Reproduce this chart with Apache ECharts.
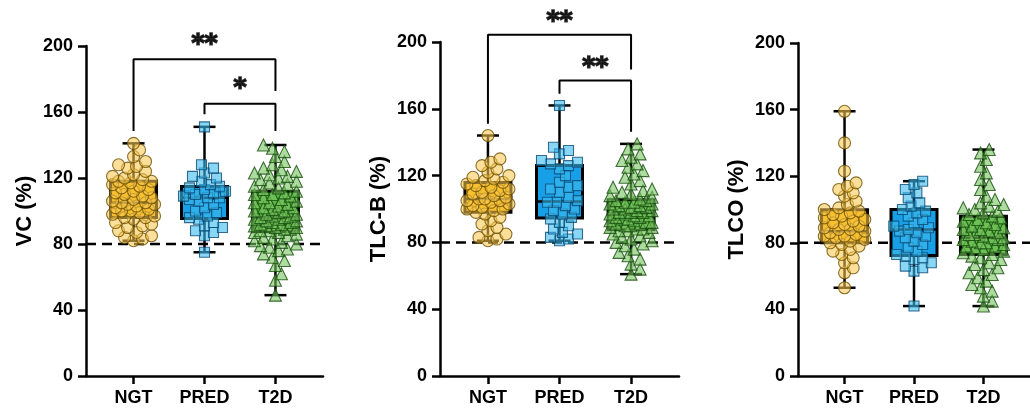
<!DOCTYPE html>
<html>
<head>
<meta charset="utf-8">
<script src="https://cdn.jsdelivr.net/npm/echarts@6/dist/echarts.min.js"></script>
<style>
  html, body { margin: 0; padding: 0; background: #fff; }
  #chart { width: 1030px; height: 408px; }
</style>
</head>
<body>
<div id="chart"></div>
<script>
// groups on the x axis
const groups = ["NGT", "PRED", "T2D"];
const panelNames = ["VC (%)", "TLC-B (%)", "TLCO (%)"];
const yTicks = [0, 40, 80, 120, 160, 200];
const refLine = 80;

// box stats per panel, per group: [min, q1, median, q3, max]
const vcBox = [[82, 96, 105, 118, 141], [75, 95.4, 108, 114.8, 151], [49, 87.5, 96, 112, 140]];
const tlcbBox = [[81, 98, 106, 115.8, 144], [81, 94.6, 104.5, 126, 162], [61, 87.6, 97.5, 105.5, 139]];
const tlcoBox = [[53, 80, 87, 99.8, 159], [42, 72.3, 88, 100, 117], [42, 73, 83, 96, 136]];

// individual points
const vcNGT = [82, 83, 84, 85, 87, 88, 90, 91, 92, 93, 95, 96, 96, 97, 98, 99, 100, 100, 101, 102, 103, 104, 104, 105, 105, 106, 107, 108, 109, 110, 111, 112, 113, 114, 115, 116, 117, 118, 118, 119, 120, 121, 122, 124, 126, 127, 128, 130, 133, 137, 141];
const vcPRED = [75, 85, 87, 88, 90, 91, 93, 95, 96, 97, 99, 100, 102, 104, 106, 107, 108, 108, 109, 110, 111, 112, 113, 114, 115, 116, 118, 120, 121, 123, 126, 128, 151];
const vcT2D = [49, 58, 62, 67, 70, 72, 74, 76, 77, 78, 79, 80, 81, 82, 83, 84, 85, 86, 87, 87, 88, 88, 89, 89, 90, 90, 91, 91, 92, 92, 93, 93, 94, 94, 95, 95, 96, 96, 97, 97, 98, 98, 99, 100, 100, 101, 102, 102, 103, 104, 105, 105, 106, 107, 108, 109, 110, 110, 111, 112, 113, 114, 115, 116, 117, 118, 119, 120, 121, 122, 123, 124, 125, 126, 128, 130, 133, 136, 138, 140];

const tlcbNGT = [81, 82, 83, 85, 87, 89, 91, 93, 95, 97, 98, 99, 100, 100, 101, 102, 103, 104, 105, 105, 106, 106, 107, 108, 109, 110, 111, 112, 113, 114, 115, 116, 117, 118, 119, 120, 122, 124, 126, 128, 130, 144];
const tlcbPRED = [81, 82, 83, 85, 86, 88, 90, 92, 94, 95, 97, 99, 100, 102, 104, 104, 105, 107, 110, 112, 113, 114, 116, 120, 124, 126, 127, 128, 129, 133, 135, 137, 162];
const tlcbT2D = [61, 64, 67, 70, 72, 74, 76, 78, 79, 80, 81, 82, 83, 84, 85, 86, 87, 87, 88, 88, 89, 89, 90, 90, 91, 91, 92, 92, 93, 93, 94, 94, 95, 95, 96, 96, 97, 97, 98, 98, 98, 99, 99, 100, 100, 101, 101, 102, 102, 103, 103, 104, 104, 105, 105, 106, 107, 108, 109, 110, 111, 112, 113, 115, 117, 119, 121, 123, 125, 127, 129, 131, 133, 136, 139];

const tlcoNGT = [53, 62, 65, 68, 71, 73, 75, 76, 78, 79, 80, 81, 82, 83, 84, 84, 85, 86, 87, 88, 88, 89, 90, 91, 92, 93, 94, 95, 96, 97, 98, 99, 100, 101, 103, 105, 108, 110, 112, 114, 116, 123, 140, 159];
const tlcoPRED = [42, 63, 65, 66, 68, 70, 71, 72, 73, 75, 77, 79, 81, 83, 84, 86, 87, 88, 89, 90, 92, 94, 96, 98, 99, 100, 102, 104, 107, 110, 112, 115, 117];
const tlcoT2D = [42, 45, 48, 51, 53, 55, 57, 59, 61, 62, 64, 65, 67, 68, 70, 71, 72, 73, 74, 75, 76, 77, 78, 78, 79, 80, 80, 81, 82, 82, 83, 83, 84, 85, 85, 86, 87, 88, 88, 89, 90, 91, 92, 93, 94, 95, 96, 97, 98, 99, 100, 101, 102, 103, 104, 106, 108, 112, 115, 118, 122, 126, 130, 134, 136];

// significance brackets: [x, y] corners, and star labels [x, y, text]
const vcBrackets = [[[0, 148.5], [0, 192], [2, 192], [2, 172.7]], [[1, 158.6], [1, 165], [2, 165], [2, 148.5]]];
const vcStars = [[1, 201, "**"], [1.5, 174, "*"]];
const tlcbBrackets = [[[0, 151], [0, 204.4], [2, 204.4], [2, 183.5]], [[1, 169], [1, 177], [2, 177], [2, 146.3]]];
const tlcbStars = [[1, 212, "**"], [1.5, 185, "**"]];

const boxColors = ["#F6B500", "#17A0E8", "#5DB845"];
const dotColors = ["rgba(248,200,80,0.72)", "rgba(60,186,238,0.75)", "rgba(120,196,96,0.75)"];
const dotBorders = ["#6e5000", "#0a4a74", "#174f0e"];
const dotSymbols = ["circle", "rect", "triangle"];
const dotSizes = [12, 10, 12];

const font = "'Liberation Sans', Arial, sans-serif";

const panels = [
  { name: panelNames[0], box: vcBox, pts: [vcNGT, vcPRED, vcT2D], brackets: vcBrackets, stars: vcStars,
    grid: { left: 86, top: 46, width: 237, height: 330 } },
  { name: panelNames[1], box: tlcbBox, pts: [tlcbNGT, tlcbPRED, tlcbT2D], brackets: tlcbBrackets, stars: tlcbStars,
    grid: { left: 440, top: 42, width: 239, height: 334 } },
  { name: panelNames[2], box: tlcoBox, pts: [tlcoNGT, tlcoPRED, tlcoT2D], brackets: [], stars: [],
    grid: { left: 798, top: 43, width: 241, height: 333 } },
];

const xMin = -0.67, xMax = 2.67;

// spread points sideways so they don't pile up (beeswarm-ish)
function swarm(vals, gi, pxX, pxY) {
  const sorted = vals.slice().sort((a, b) => a - b);
  const placed = [];
  const out = [];
  const d = 8.5, maxOff = 21;
  sorted.forEach((v) => {
    const y = v * pxY;
    let best = 0, bestDist = -1;
    for (let k = 0; k < 40; k++) {
      const off = (k % 2 ? 1 : -1) * Math.ceil(k / 2) * 3;
      if (Math.abs(off) > maxOff) break;
      let minD = Infinity;
      placed.forEach((p) => {
        const dd = Math.hypot(p[0] - off, p[1] - y);
        if (dd < minD) minD = dd;
      });
      if (minD >= d) { best = off; bestDist = minD; break; }
      if (minD > bestDist) { bestDist = minD; best = off; }
    }
    placed.push([best, y]);
    out.push([gi + best / pxX, v]);
  });
  return out;
}

const grids = [], xAxes = [], yAxes = [], series = [];

panels.forEach((p, i) => {
  grids.push(p.grid);
  xAxes.push({
    type: "value", gridIndex: i, min: xMin, max: xMax,
    axisLine: { onZero: false, lineStyle: { color: "#000", width: 2.5 } },
    axisTick: { show: true, customValues: [0, 1, 2], length: 8, lineStyle: { color: "#000", width: 2.5 } },
    axisLabel: { customValues: [0, 1, 2], formatter: (v) => groups[Math.round(v)], color: "#000",
      fontFamily: font, fontWeight: "bold", fontSize: 18, margin: 13 },
    splitLine: { show: false },
  });
  yAxes.push({
    type: "value", gridIndex: i, min: 0, max: 200, interval: 40,
    name: p.name, nameLocation: "middle", nameGap: 50,
    nameTextStyle: { color: "#000", fontFamily: font, fontWeight: "bold", fontSize: 22 },
    axisLine: { show: true, onZero: false, lineStyle: { color: "#000", width: 2.5 } },
    axisTick: { show: true, length: 8, lineStyle: { color: "#000", width: 2.5 } },
    axisLabel: { color: "#000", fontFamily: font, fontWeight: "bold", fontSize: 18, margin: 13 },
    splitLine: { show: false },
  });

  const pxX = p.grid.width / (xMax - xMin);
  const pxY = p.grid.height / 200;

  // dashed reference line at 80
  series.push({
    type: "line", xAxisIndex: i, yAxisIndex: i, silent: true, symbol: "none", z: 1,
    data: [[xMin, refLine], [xMax, refLine]],
    lineStyle: { color: "#000", width: 2.5, type: [10, 6] },
  });

  // boxes + whiskers
  series.push({
    type: "custom", xAxisIndex: i, yAxisIndex: i, z: 2,
    data: p.box.map((b, gi) => [gi].concat(b)),
    renderItem: (params, api) => {
      const gi = api.value(0);
      const c = (v) => api.coord([gi, v]);
      const pMin = c(api.value(1)), pQ1 = c(api.value(2)), pMed = c(api.value(3));
      const pQ3 = c(api.value(4)), pMax = c(api.value(5));
      const hw = 23, cw = 11;
      const stroke = { stroke: "#000", lineWidth: 2.5 };
      return {
        type: "group",
        children: [
          { type: "line", shape: { x1: pMin[0], y1: pMin[1], x2: pQ1[0], y2: pQ1[1] }, style: stroke },
          { type: "line", shape: { x1: pQ3[0], y1: pQ3[1], x2: pMax[0], y2: pMax[1] }, style: stroke },
          { type: "line", shape: { x1: pMin[0] - cw, y1: pMin[1], x2: pMin[0] + cw, y2: pMin[1] }, style: stroke },
          { type: "line", shape: { x1: pMax[0] - cw, y1: pMax[1], x2: pMax[0] + cw, y2: pMax[1] }, style: stroke },
          { type: "rect", shape: { x: pQ3[0] - hw, y: pQ3[1], width: hw * 2, height: pQ1[1] - pQ3[1] },
            style: { fill: boxColors[gi], stroke: "#000", lineWidth: 3 } },
          { type: "line", shape: { x1: pMed[0] - hw, y1: pMed[1], x2: pMed[0] + hw, y2: pMed[1] }, style: stroke },
        ],
      };
    },
  });

  // individual points
  p.pts.forEach((vals, gi) => {
    series.push({
      type: "scatter", xAxisIndex: i, yAxisIndex: i, z: 3, clip: false,
      symbol: dotSymbols[gi], symbolSize: dotSizes[gi],
      data: swarm(vals, gi, pxX, pxY),
      itemStyle: { color: dotColors[gi], borderColor: dotBorders[gi], borderWidth: 1.1 },
    });
  });

  // significance brackets
  p.brackets.forEach((br) => {
    series.push({
      type: "line", xAxisIndex: i, yAxisIndex: i, z: 4, clip: false, silent: true, symbol: "none",
      data: br, lineStyle: { color: "#000", width: 2 },
    });
  });
  if (p.stars.length) {
    series.push({
      type: "scatter", xAxisIndex: i, yAxisIndex: i, z: 4, clip: false, silent: true,
      symbolSize: 1, itemStyle: { color: "transparent" },
      data: p.stars.map((s) => ({ value: [s[0], s[1]], label: { formatter: s[2] } })),
      label: { show: true, position: "inside", color: "#000", fontFamily: "'DejaVu Sans', sans-serif",
        fontWeight: "bold", fontSize: 25, textBorderColor: "#000", textBorderWidth: 1.6 },
    });
  }
});

const chart = echarts.init(document.getElementById("chart"));
chart.setOption({
  animation: false,
  grid: grids,
  xAxis: xAxes,
  yAxis: yAxes,
  series: series,
});
</script>
</body>
</html>
